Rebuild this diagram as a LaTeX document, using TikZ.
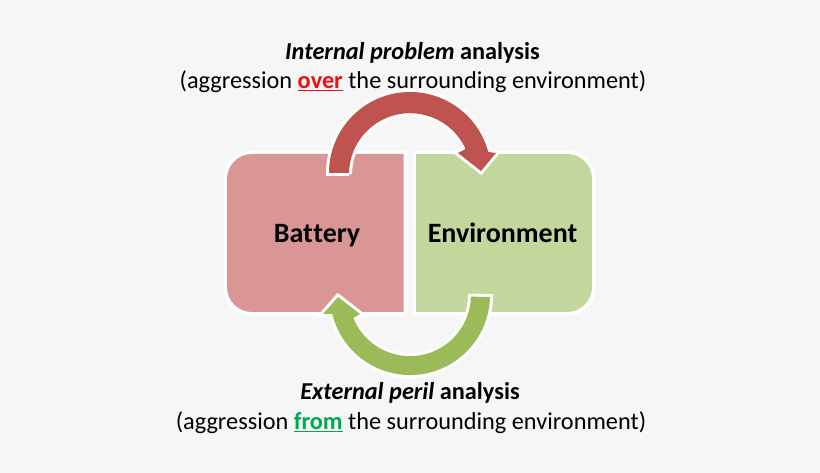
\documentclass[tikz,border=0pt]{standalone}
\usepackage{fontspec}
\setmainfont{Carlito}
\definecolor{bgc}{HTML}{F6F6F6}
\definecolor{boxred}{HTML}{D99694}
\definecolor{boxgreen}{HTML}{C3D69B}
\definecolor{arrred}{HTML}{BE5350}
\definecolor{arrgreen}{HTML}{9BBB59}
\definecolor{wred}{HTML}{EE1111}
\definecolor{wgreen}{HTML}{00A850}
\tikzset{
  panel/.style={preaction={draw=white,line width=7pt,line join=round}},
  swoop/.style={preaction={draw=white,line width=6pt,line join=miter,miter limit=3}},
  caption/.style={anchor=base,inner sep=0pt,font=\fontsize{24.3}{28}\selectfont,text=black},
  label/.style={anchor=base,inner sep=0pt,font=\fontsize{28}{32}\selectfont\bfseries,text=black}
}
\newcommand{\ulword}[2]{\textcolor{#1}{\underline{\textbf{#2}}}}
\begin{document}
\begin{tikzpicture}[x=1pt,y=1pt]
\useasboundingbox (0,0) rectangle (820,473);
\fill[bgc] (0,0) rectangle (820,473);
% panels
\path[panel,fill=boxred]
  (403.7,319) -- (252,319) arc[start angle=90,end angle=180,radius=25pt] -- (227,186)
  arc[start angle=180,end angle=270,radius=25pt] -- (403.7,161) -- cycle;
\path[panel,fill=boxgreen]
  (416,319) -- (567,319) arc[start angle=90,end angle=0,radius=25pt] -- (592,186)
  arc[start angle=0,end angle=-90,radius=25pt] -- (416,161) -- cycle;
% arrows
\path[swoop,fill=arrred]
  (329,300) arc[start angle=180,end angle=15,radius=81pt]
  -- (496,320) -- (481,302) -- (458,320) -- (465.6,324)
  arc[start angle=24.4,end angle=180,radius=61pt] -- (349,300) -- cycle;
\path[swoop,fill=arrgreen]
  (490,176) arc[start angle=-1.4,end angle=-166.3,radius=80pt]
  -- (323,159) -- (338,176) -- (360,159) -- (353.4,155)
  arc[start angle=-158,end angle=-1.4,radius=61pt] -- cycle;
% texts
\node[label] (bat) at (317,230.5) {Bat\kern0.6pt tery};
\node[label] (env) at (502.5,230.5) {Environment};
\node[caption] (t1) at (412.5,413.5) {\textbf{\textit{Internal problem}} \textbf{analysis}};
\node[caption] (t2) at (413,384.5) {(aggression \ulword{wred}{over} the surrounding environment)};
\node[caption] (t3) at (410,73.5) {\textbf{\textit{External peril}} \textbf{analysis}};
\node[caption] (t4) at (411,43.5) {(aggression \ulword{wgreen}{from} the surrounding environment)};
\end{tikzpicture}
\end{document}
